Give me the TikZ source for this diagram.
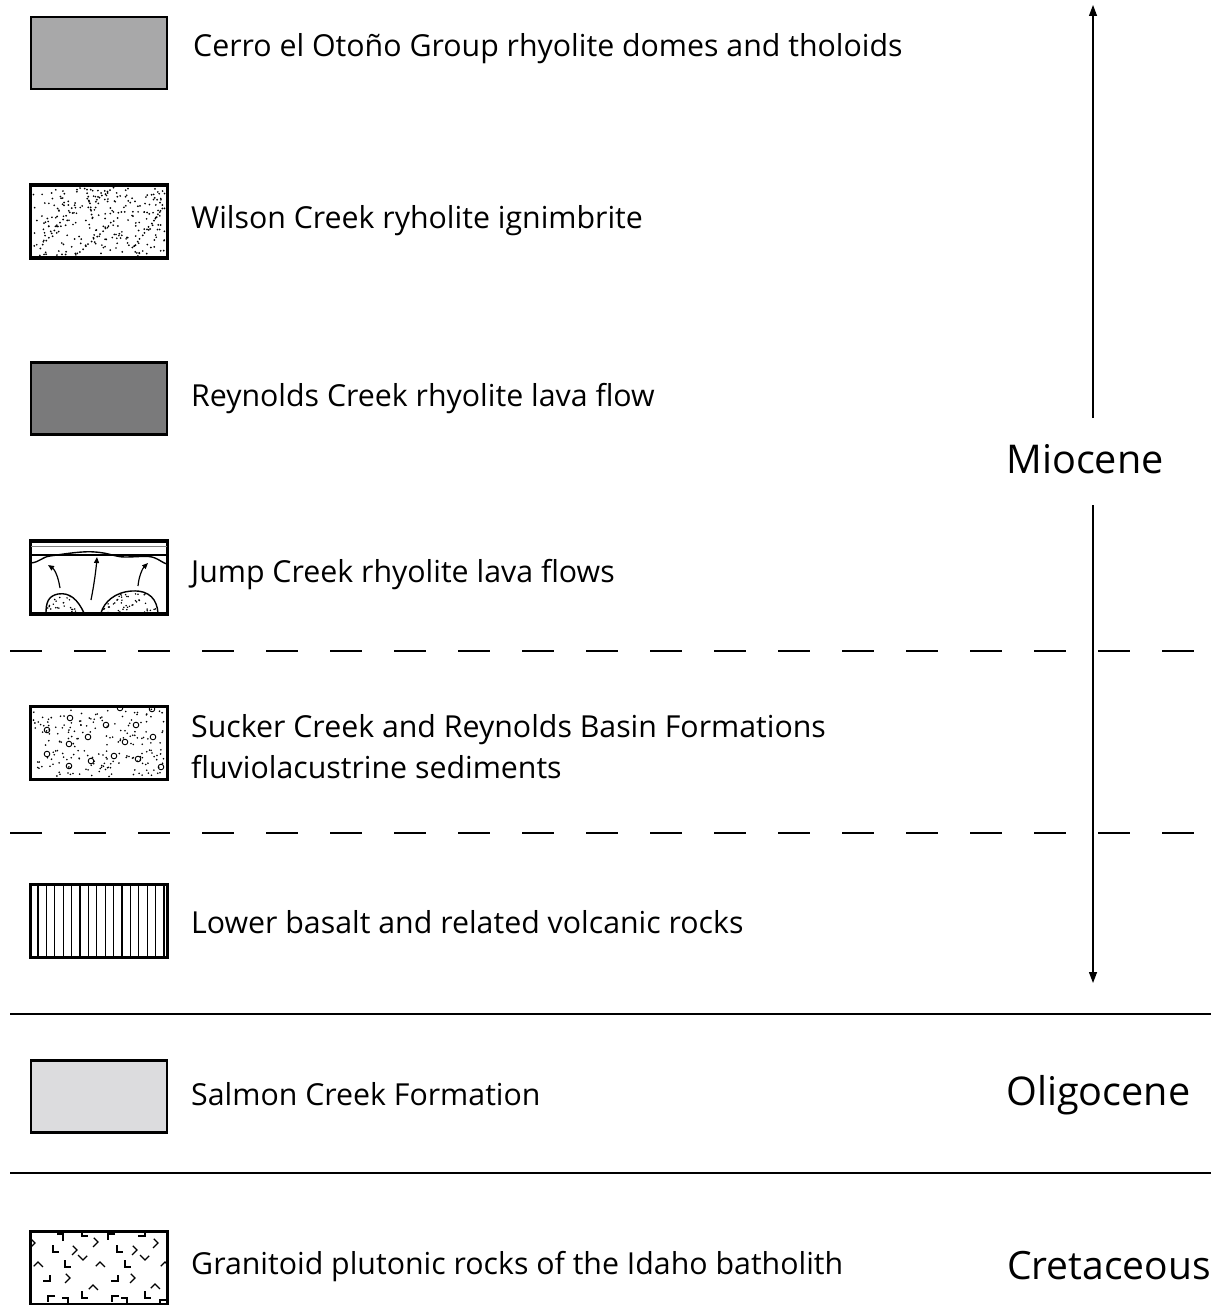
\documentclass[tikz,border=0pt]{standalone}
\usepackage{fontspec}
\setmainfont{Open Sans}
\usetikzlibrary{arrows.meta}
\definecolor{grayA}{HTML}{A8A8A9}
\definecolor{grayB}{HTML}{7A7A7B}
\definecolor{grayC}{HTML}{DCDCDE}
\tikzset{
  legbox/.style={draw=black, line width=2.4pt, minimum width=136pt, minimum height=72pt, inner sep=0pt},
  legtext/.style={anchor=west, inner sep=0pt, font=\fontsize{30.3}{41}\selectfont, align=left},
  epoch/.style={inner sep=0pt, font=\fontsize{39.6}{44}\selectfont},
  divider/.style={line width=2pt},
  dashdiv/.style={line width=2pt, dash pattern=on 32pt off 32pt},
  agearrow/.style={line width=1.3pt, -{Triangle[length=11pt,width=8pt]}},
  chev/.pic={\draw[line width=1.1pt] (0,-7) -- (0,0) -- (6,0);}
}
\newcommand{\dotfield}[6]{% x0 y0 x1 y1 count radius
  \foreach \k in {1,...,#5}{
    \pgfmathsetmacro{\px}{#1+(#3-#1)*rnd}
    \pgfmathsetmacro{\py}{#2+(#4-#2)*rnd}
    \fill (\px,\py) circle (#6);
  }}
\newcommand{\dotstreak}[5]{% x0 y0 x1 y1 count
  \foreach \k in {0,...,#5}{
    \pgfmathsetmacro{\tt}{\k/#5}
    \pgfmathsetmacro{\px}{#1+(#3-#1)*\tt+0.6*rand}
    \pgfmathsetmacro{\py}{#2+(#4-#2)*\tt+0.6*rand}
    \fill (\px,\py) circle (1.0);
  }}
\begin{document}
\begin{tikzpicture}[x=1pt,y=-1pt]
\useasboundingbox (0,0) rectangle (1214,1305);
\pgfmathsetseed{4721}

% ---- legend boxes ----
\node[legbox, fill=grayA] (b1) at (99,53) {};
\node[legbox] (b2) at (99,221.5) {};
\node[legbox, fill=grayB] (b3) at (99,398.5) {};
\node[legbox] (b4) at (99,577.5) {};
\node[legbox] (b5) at (99,743) {};
\node[legbox] (b6) at (99,921) {};
\node[legbox, fill=grayC] (b7) at (99,1096.5) {};
\node[legbox] (b8) at (99,1268) {};

% ignimbrite: stipple with flow streaks
\begin{scope}
  \clip (b2.south west) rectangle (b2.north east);
  \dotfield{33}{188}{165}{256}{240}{0.95}
  \dotstreak{40}{248}{75}{205}{12}
  \dotstreak{87}{190}{92}{218}{8}
  \dotstreak{80}{252}{117}{218}{13}
  \dotstreak{97}{200}{113}{188}{6}
  \dotstreak{133}{248}{163}{208}{13}
  \dotstreak{152}{195}{165}{208}{5}
\end{scope}
\draw[line width=2.4pt] (b2.south west) rectangle (b2.north east);

% lava flows: layered top, flow front, arrows and stippled domes
\begin{scope}
  \clip (b4.south west) rectangle (b4.north east);
  \draw[line width=1.2pt, gray] (31,546.5) -- (167,546.5);
  \draw[line width=1.2pt] (31,555) -- (167,555);
  \draw[line width=1.4pt] (31,563) .. controls (40,562) and (42,557) .. (50,556)
     .. controls (70,553) and (85,551) .. (95,552)
     .. controls (110,553) and (115,557) .. (125,557)
     .. controls (140,557) and (148,555) .. (155,558)
     .. controls (160,560) and (163,563) .. (167,564);
  \draw[line width=1.2pt, -{Triangle[length=6pt,width=5pt]}] (60,588) .. controls (58,575) and (54,569) .. (48,565);
  \draw[line width=1.2pt, -{Triangle[length=6pt,width=5pt]}] (91,600) .. controls (94,585) and (96,570) .. (97,557);
  \draw[line width=1.2pt, -{Triangle[length=6pt,width=5pt]}] (138,586) .. controls (139,575) and (143,568) .. (148,563);
  \path[clip] (46,613) .. controls (46,603) and (48,596) .. (58,594)
     .. controls (70,592) and (78,600) .. (84,613) -- cycle
     (101,613) .. controls (104,602) and (115,592) .. (132,591)
     .. controls (150,590) and (157,600) .. (158,613) -- cycle;
  \dotfield{44}{589}{160}{613}{120}{0.85}
\end{scope}
\draw[line width=1.4pt] (46,613) .. controls (46,603) and (48,596) .. (58,594)
     .. controls (70,592) and (78,600) .. (84,613);
\draw[line width=1.4pt] (101,613) .. controls (104,602) and (115,592) .. (132,591)
     .. controls (150,590) and (157,600) .. (158,613);
\draw[line width=2.4pt] (b4.south west) rectangle (b4.north east);

% fluviolacustrine sediments: sand dots with pebbles
\begin{scope}
  \clip (b5.south west) rectangle (b5.north east);
  \dotfield{33}{709}{165}{777}{200}{0.9}
  \foreach \cx/\cy in {70/718,47/730,106/725,136/725,88/737,153/737,69/744,125/742,
      47/754,114/756,91/761,138/759,69/766,161/767,120/708,152/709}
    \draw[line width=0.9pt] (\cx,\cy) circle (2.8);
\end{scope}
\draw[line width=2.4pt] (b5.south west) rectangle (b5.north east);

% lower basalt: vertical ruling
\foreach \lx in {38,46.4,54.8,63.2,71.6,80,88.4,96.8,105.2,113.6,122,130.4,138.8,147.2,155.6,164}
  \draw[line width=1.1pt] (\lx,885) -- (\lx,957);
\draw[line width=2.4pt] (b6.south west) rectangle (b6.north east);

% granitoid: scattered angle marks
\begin{scope}
  \clip (b8.south west) rectangle (b8.north east);
  \foreach \cx/\cy/\ang in {35/1243/135,53/1252/0,77/1250/135,98/1242/135,117/1252/0,137/1250/135,158/1243/135,
      38/1262/225,65/1267/0,83/1260/45,100/1262/225,125/1267/0,145/1260/45,165/1262/225,
      50/1281/90,70/1278/135,93/1285/225,118/1281/90,135/1278/135,155/1284/225,
      48/1296/270,68/1298/180,82/1298/0,112/1296/270,127/1298/180,145/1298/0,
      63/1234/180,82/1236/0,108/1234/270,145/1236/90,160/1300/270}
    \pic[rotate=\ang] at (\cx,\cy) {chev};
\end{scope}
\draw[line width=2.4pt] (b8.south west) rectangle (b8.north east);

% ---- legend text ----
\node[legtext] (t1) at (193,49) {Cerro el Otoño Group rhyolite domes and tholoids};
\node[legtext] (t2) at (191,221) {Wilson Creek ryholite ignimbrite};
\node[legtext] (t3) at (191,399) {Reynolds Creek rhyolite lava flow};
\node[legtext] (t4) at (191,575) {Jump Creek rhyolite lava flows};
\node[legtext] (t5) at (191,746.5) {Sucker Creek and Reynolds Basin Formations\\fluviolacustrine sediments};
\node[legtext] (t6) at (191,922) {Lower basalt and related volcanic rocks};
\node[legtext] (t7) at (191,1094) {Salmon Creek Formation};
\node[legtext] (t8) at (191,1267) {Granitoid plutonic rocks of the Idaho batholith};

% ---- epochs ----
\node[epoch] (mio) at (1085,459) {Miocene};
\node[epoch, anchor=west] (oli) at (1006,1095) {Oligocene};
\node[epoch, anchor=west, font=\fontsize{39}{44}\selectfont] (cre) at (1007,1266) {Cretaceous};

\coordinate (mtop) at (1093,5);
\coordinate (mbot) at (1093,983);
\coordinate (mup) at (1093,418);
\coordinate (mdn) at (1093,505);
\draw[agearrow] (mup) -- (mtop);
\draw[agearrow] (mdn) -- (mbot);

% ---- boundaries ----
\coordinate (d1a) at (10,651);  \coordinate (d1b) at (1196,651);
\coordinate (d2a) at (10,833);  \coordinate (d2b) at (1196,833);
\coordinate (s1a) at (10,1014); \coordinate (s1b) at (1211,1014);
\coordinate (s2a) at (10,1173); \coordinate (s2b) at (1211,1173);
\draw[dashdiv] (d1a) -- (d1b);
\draw[dashdiv] (d2a) -- (d2b);
\draw[divider] (s1a) -- (s1b);
\draw[divider] (s2a) -- (s2b);
\end{tikzpicture}
\end{document}
